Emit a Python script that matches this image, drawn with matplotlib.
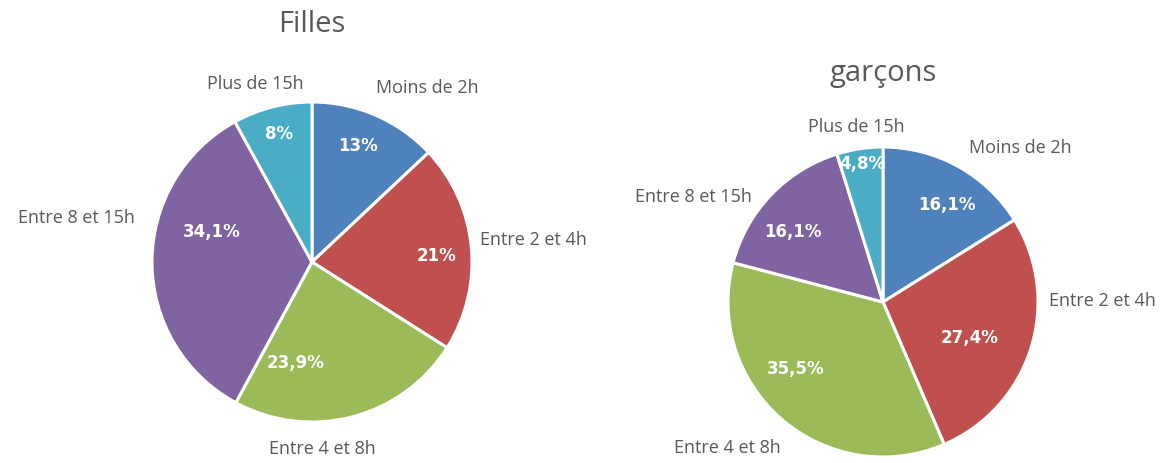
import matplotlib.pyplot as plt

categories = ["Moins de 2h", "Entre 2 et 4h", "Entre 4 et 8h", "Entre 8 et 15h", "Plus de 15h"]
filles = [13, 21, 23.9, 34.1, 8]
garcons = [16.1, 27.4, 35.5, 16.1, 4.8]
filles_txt = ["13%", "21%", "23,9%", "34,1%", "8%"]
garcons_txt = ["16,1%", "27,4%", "35,5%", "16,1%", "4,8%"]
colors = ["#4F81BD", "#C0504D", "#9BBB59", "#8064A2", "#4BACC6"]

W, H = 1163, 464
plt.rcParams['font.family'] = ['Open Sans', 'DejaVu Sans']
fig = plt.figure(figsize=(W / 100, H / 100), dpi=100)
ax = fig.add_axes([0, 0, 1, 1])
ax.set_xlim(0, W)
ax.set_ylim(0, H)
ax.set_aspect('equal')
ax.axis('off')

grey = "#595959"

# pie layout (pixel coords, y from top)
pies = [
    dict(vals=filles, txt=filles_txt, c=(312, 263), r=160, title="Filles", tpos=(312, 24),
         pct_pos=[(358, 146), (436, 256), (296, 363), (212, 232), (279, 134)],
         lab_pos=[(427, 88), (533, 240), (322, 449), (76, 218), (255, 84)]),
    dict(vals=garcons, txt=garcons_txt, c=(883, 303), r=155, title="garçons", tpos=(883, 73),
         pct_pos=[(947, 205), (970, 338), (796, 369), (793, 232), (862, 164)],
         lab_pos=[(1020, 148), (1102, 301), (727, 448), (693, 197), (856, 127)]),
]

for p in pies:
    cx, cy = p["c"]
    ax.pie(p["vals"], colors=colors, startangle=90, counterclock=False,
           center=(cx, H - cy), radius=p["r"],
           wedgeprops=dict(edgecolor="white", linewidth=2.2))
    for (x, y), t in zip(p["pct_pos"], p["txt"]):
        ax.text(x, H - y, t, color="white", fontsize=12, fontweight="bold",
                family="DejaVu Sans", ha="center", va="center")
    for (x, y), t in zip(p["lab_pos"], categories):
        ax.text(x, H - y, t, color=grey, fontsize=13, ha="center", va="center")
    tx, ty = p["tpos"]
    ax.text(tx, H - ty, p["title"], color=grey, fontsize=21, ha="center", va="center")

ax.set_xlim(0, W)
ax.set_ylim(0, H)
fig.savefig("out.png", dpi=100)
